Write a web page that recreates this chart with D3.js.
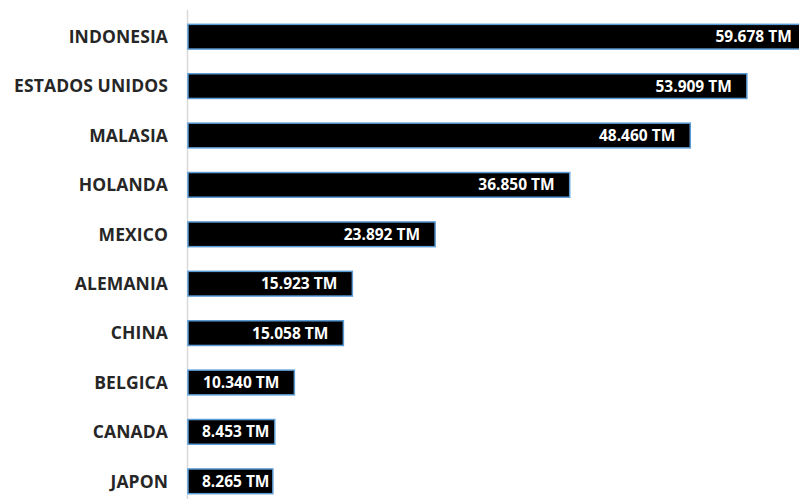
<!DOCTYPE html>
<html lang="es">
<head>
    <meta charset="UTF-8">
    <title>Importaciones por país</title>
    <style>
        body {
            margin: 0;
            background: #fff;
        }
        svg {
            display: block;
        }
    </style>
</head>
<body>
<script src="https://cdnjs.cloudflare.com/ajax/libs/d3/7.8.5/d3.min.js"></script>
<script>
    const width = 799;
    const height = 499;

    const paises = ['INDONESIA', 'ESTADOS UNIDOS', 'MALASIA', 'HOLANDA', 'MEXICO',
        'ALEMANIA', 'CHINA', 'BELGICA', 'CANADA', 'JAPON'];
    const toneladas = [59678, 53909, 48460, 36850, 23892, 15923, 15058, 10340, 8453, 8265];

    const COLORS = {
        bar: '#000000',
        barBorder: '#5b9bd5',
        axis: '#d9d9d9',
        label: '#262626',
        value: '#ffffff'
    };

    const es = d3.formatLocale({decimal: ',', thousands: '.', grouping: [3], currency: ['', '']});
    const fmt = v => es.format(',')(v) + ' TM';

    const data = paises.map((name, i) => ({name, value: toneladas[i]}));

    const svg = d3.select('body').append('svg')
        .attr('width', width)
        .attr('height', height);

    const x = d3.scaleLinear()
        .domain([0, 58930])
        .range([187, width]);

    const y = d3.scaleBand()
        .domain(paises)
        .range([12, 506])
        .paddingInner(0.5)
        .paddingOuter(0.25);

    // eje vertical
    svg.append('line')
        .attr('x1', 187.5).attr('x2', 187.5)
        .attr('y1', 10).attr('y2', height)
        .attr('stroke', COLORS.axis)
        .attr('stroke-width', 1.5);

    svg.append('g')
        .selectAll('rect')
        .data(data)
        .join('rect')
        .attr('x', x(0) + 1)
        .attr('y', d => y(d.name))
        .attr('width', d => x(d.value) - x(0) - 1)
        .attr('height', y.bandwidth())
        .attr('fill', COLORS.bar)
        .attr('stroke', COLORS.barBorder)
        .attr('stroke-width', 1.5);

    svg.append('g')
        .selectAll('text')
        .data(data)
        .join('text')
        .attr('x', 168)
        .attr('y', d => y(d.name) + y.bandwidth() / 2)
        .attr('dy', '0.36em')
        .attr('text-anchor', 'end')
        .attr('fill', COLORS.label)
        .style('font-family', '"Open Sans", sans-serif')
        .style('font-weight', 'bold')
        .style('font-size', '17.5px')
        .style('letter-spacing', '0.1px')
        .text(d => d.name);

    const valueLabels = svg.append('g')
        .selectAll('text')
        .data(data)
        .join('text')
        .attr('y', d => y(d.name) + y.bandwidth() / 2)
        .attr('dy', '0.36em')
        .attr('text-anchor', 'end')
        .attr('fill', COLORS.value)
        .style('font-family', '"Open Sans", sans-serif')
        .style('font-weight', 'bold')
        .style('font-size', '15.5px')
        .style('letter-spacing', '0px')
        .text(d => fmt(d.value));

    valueLabels.attr('x', function (d) {
        const w = this.getComputedTextLength();
        return Math.max(x(d.value) - 15, x(0) + 15 + w);
    });
</script>
</body>
</html>
